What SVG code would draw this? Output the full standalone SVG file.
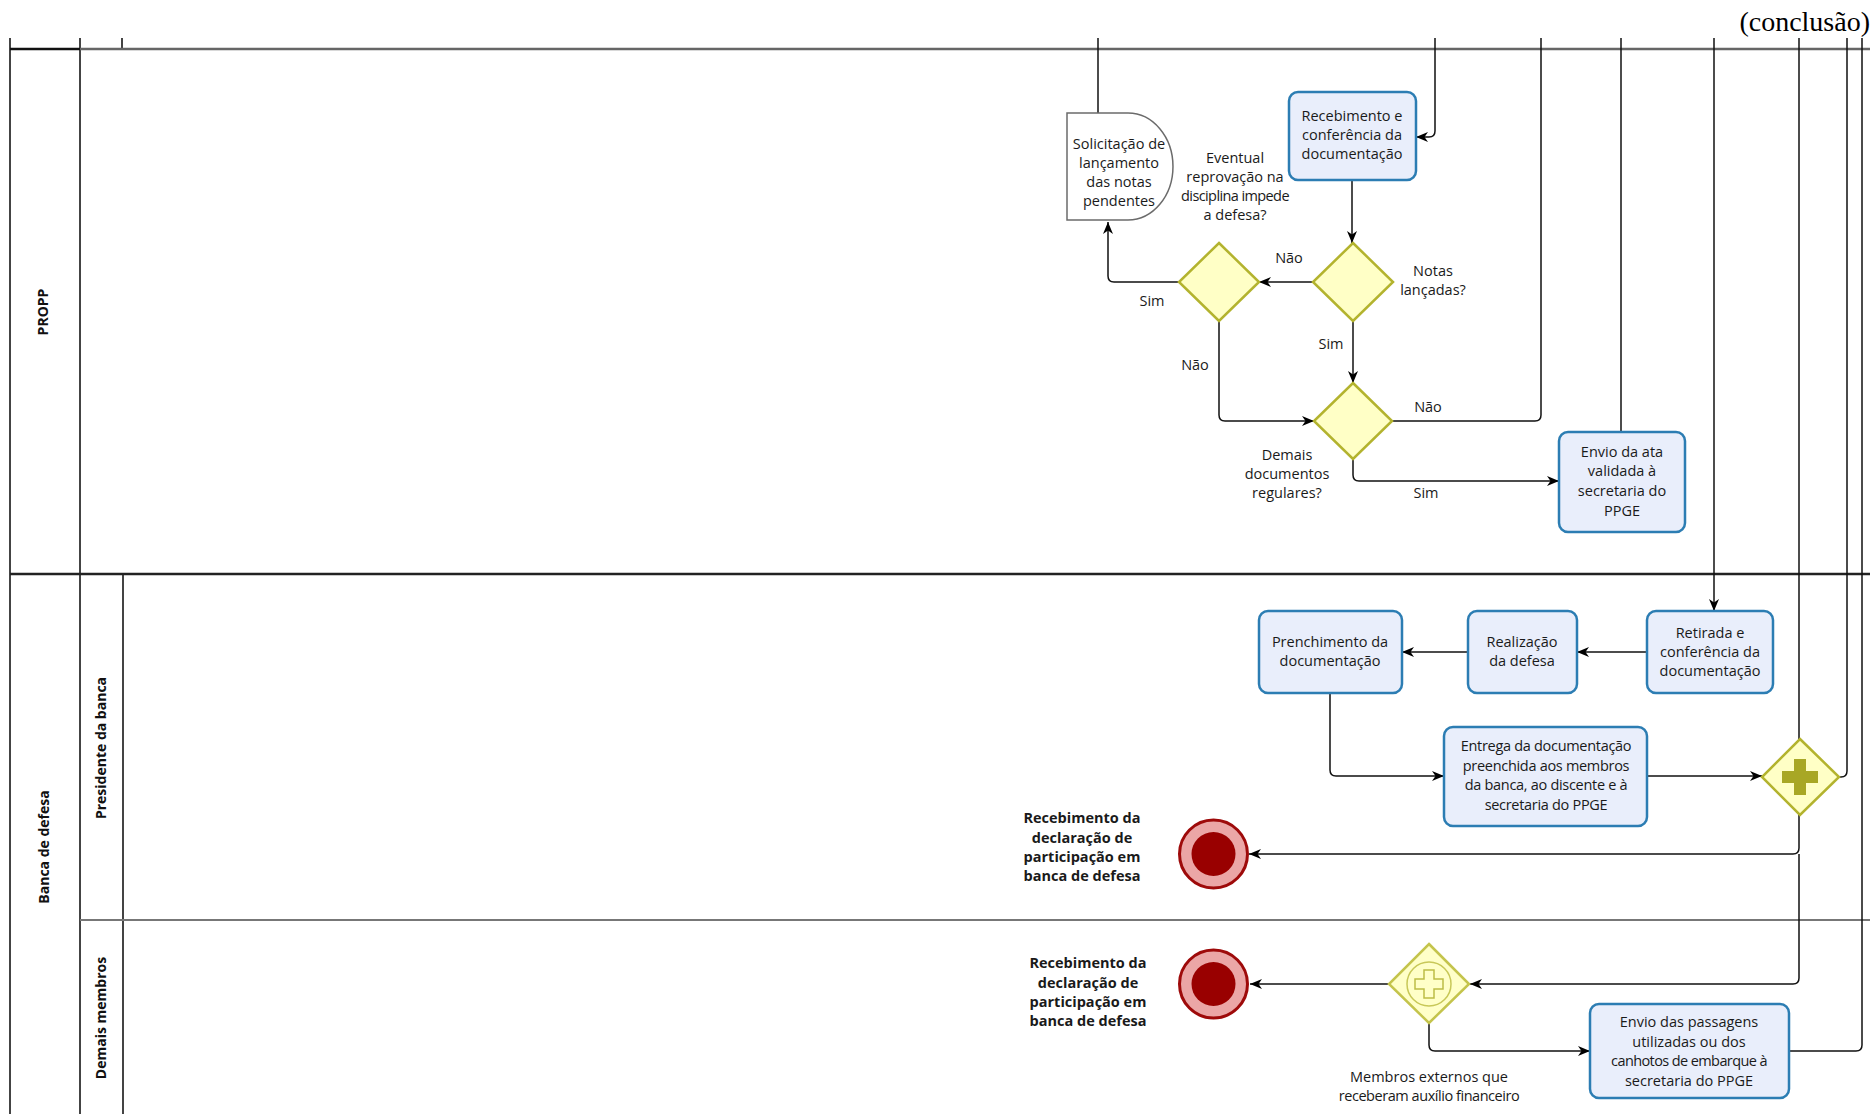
<svg xmlns="http://www.w3.org/2000/svg" width="1870" height="1114" viewBox="0 0 1870 1114">
<style>
.t{font-family:"Open Sans","DejaVu Sans",sans-serif;font-size:14.5px;fill:#1a1a1a;text-anchor:middle}
.b{font-weight:bold}
.lane{font-family:"Open Sans","DejaVu Sans",sans-serif;font-size:14px;font-weight:bold;fill:#111;text-anchor:middle}
.task{fill:#E9EEFB;stroke:#2C7DB3;stroke-width:2.5}
.gw{fill:#FFFFC6;stroke:#B3B32E;stroke-width:2.5}
.gw2{fill:#FFFFC8;stroke:#C4C44C;stroke-width:2.5}
.ln{fill:none;stroke:#111;stroke-width:1.5}
.lanes{fill:none}
</style>
<defs>
<marker id="ah" viewBox="0 0 12 10" refX="12" refY="5" markerWidth="12" markerHeight="10" markerUnits="userSpaceOnUse" orient="auto">
<path d="M0,0 L12,5 L0,10 L3.5,5 Z" fill="#000"/>
</marker>
</defs>
<rect width="1870" height="1114" fill="#fff"/>
<text x="1870" y="31" font-family="Liberation Serif,serif" font-size="28" text-anchor="end" fill="#000">(conclusão)</text>
<g id="lanes" class="lanes">
<path d="M10,38 V1114 M80,38 V1114 M122,38 V49 M123,574 V1114" stroke="#444" stroke-width="2"/>
<path d="M80,49 H1870" stroke="#666" stroke-width="2.5"/>
<path d="M10,49 H80" stroke="#111" stroke-width="2.5"/>
<path d="M10,574 H1870" stroke="#222" stroke-width="2.5"/>
<path d="M80,920 H1870" stroke="#777" stroke-width="2"/>
<text class="lane" transform="translate(48,312) rotate(-90)">PROPP</text>
<text class="lane" transform="translate(49,847) rotate(-90)">Banca de defesa</text>
<text class="lane" transform="translate(106,748) rotate(-90)">Presidente da banca</text>
<text class="lane" transform="translate(106,1018) rotate(-90)">Demais membros</text>
</g>
<g id="connectors" class="ln">
<path d="M1098,38 V113"/>
<path d="M1435,38 V131 Q1435,137 1429,137 H1416" marker-end="url(#ah)"/>
<path d="M1352,180 V243" marker-end="url(#ah)"/>
<path d="M1313,282 H1259" marker-end="url(#ah)"/>
<path d="M1179,282 H1114 Q1108,282 1108,276 V222" marker-end="url(#ah)"/>
<path d="M1219,321 V415 Q1219,421 1225,421 H1314" marker-end="url(#ah)"/>
<path d="M1353,321 V383" marker-end="url(#ah)"/>
<path d="M1392,421 H1535 Q1541,421 1541,415 V38"/>
<path d="M1353,459 V475 Q1353,481 1359,481 H1559" marker-end="url(#ah)"/>
<path d="M1621,432 V38"/>
<path d="M1714,38 V611" marker-end="url(#ah)"/>
<path d="M1647,652 H1577" marker-end="url(#ah)"/>
<path d="M1468,652 H1402" marker-end="url(#ah)"/>
<path d="M1330,693 V770 Q1330,776 1336,776 H1444" marker-end="url(#ah)"/>
<path d="M1647,776 H1762" marker-end="url(#ah)"/>
<path d="M1799,38 V739"/>
<path d="M1799,813 V848 Q1799,854 1793,854 H1249" marker-end="url(#ah)"/>
<path d="M1799,854 V978 Q1799,984 1793,984 H1470" marker-end="url(#ah)"/>
<path d="M1388,984 H1250" marker-end="url(#ah)"/>
<path d="M1429,1023 V1045 Q1429,1051 1435,1051 H1590" marker-end="url(#ah)"/>
<path d="M1839,777 H1841 Q1847,777 1847,771 V38"/>
<path d="M1789,1051 H1856 Q1862,1051 1862,1045 V38"/>
</g>
<g id="conn-labels" class="t">
<text x="1289" y="263">Não</text>
<text x="1152" y="306">Sim</text>
<text x="1195" y="370">Não</text>
<text x="1331" y="349">Sim</text>
<text x="1428" y="412">Não</text>
<text x="1426" y="498">Sim</text>
</g>
<g id="solicitacao">
<path d="M1067,113 H1128 A45,53.5 0 0 1 1128,220 H1067 Z" fill="#fff" stroke="#6b6b6b" stroke-width="1.5"/>
<text class="t"><tspan x="1119" y="149">Solicitação de</tspan><tspan x="1119" y="168">lançamento</tspan><tspan x="1119" y="187">das notas</tspan><tspan x="1119" y="206">pendentes</tspan></text>
</g>
<g id="recebimento">
<rect class="task" x="1289" y="92" width="127" height="88" rx="9"/>
<text class="t"><tspan x="1352" y="121">Recebimento e</tspan><tspan x="1352" y="140">conferência da</tspan><tspan x="1352" y="159">documentação</tspan></text>
</g>
<g id="gw-notas">
<path class="gw" d="M1353,243 L1393,282 L1353,321 L1313,282 Z"/>
<text class="t"><tspan x="1433" y="276">Notas</tspan><tspan x="1433" y="295">lançadas?</tspan></text>
</g>
<g id="gw-reprovacao">
<path class="gw" d="M1219,243 L1259,282 L1219,321 L1179,282 Z"/>
<text class="t"><tspan x="1235" y="163">Eventual</tspan><tspan x="1235" y="182">reprovação na</tspan><tspan x="1235" y="201" letter-spacing="-0.6">disciplina impede</tspan><tspan x="1235" y="220">a defesa?</tspan></text>
</g>
<g id="gw-demais">
<path class="gw" d="M1353,383 L1392,421 L1353,459 L1314,421 Z"/>
<text class="t"><tspan x="1287" y="460">Demais</tspan><tspan x="1287" y="479">documentos</tspan><tspan x="1287" y="498">regulares?</tspan></text>
</g>
<g id="envio-ata">
<rect class="task" x="1559" y="432" width="126" height="100" rx="9"/>
<text class="t"><tspan x="1622" y="457">Envio da ata</tspan><tspan x="1622" y="476">validada à</tspan><tspan x="1622" y="496">secretaria do</tspan><tspan x="1622" y="516">PPGE</tspan></text>
</g>
<g id="retirada">
<rect class="task" x="1647" y="611" width="126" height="82" rx="9"/>
<text class="t"><tspan x="1710" y="638">Retirada e</tspan><tspan x="1710" y="657">conferência da</tspan><tspan x="1710" y="676">documentação</tspan></text>
</g>
<g id="realizacao">
<rect class="task" x="1468" y="611" width="109" height="82" rx="9"/>
<text class="t"><tspan x="1522" y="647">Realização</tspan><tspan x="1522" y="666">da defesa</tspan></text>
</g>
<g id="prenchimento">
<rect class="task" x="1259" y="611" width="143" height="82" rx="9"/>
<text class="t"><tspan x="1330" y="647">Prenchimento da</tspan><tspan x="1330" y="666">documentação</tspan></text>
</g>
<g id="entrega">
<rect class="task" x="1444" y="727" width="203" height="99" rx="9"/>
<text class="t" letter-spacing="-0.3"><tspan x="1546" y="751">Entrega da documentação</tspan><tspan x="1546" y="771">preenchida aos membros</tspan><tspan x="1546" y="790">da banca, ao discente e à</tspan><tspan x="1546" y="810">secretaria do PPGE</tspan></text>
</g>
<g id="gw-paralelo">
<path class="gw" d="M1800,739 L1839,777 L1800,815 L1762,777 Z"/>
<path d="M1794,759 H1806 V771 H1818 V783 H1806 V795 H1794 V783 H1782 V771 H1794 Z" fill="#A8A725"/>
</g>
<g id="fim-presidente">
<circle cx="1213.5" cy="854" r="34" fill="#EBA6A6" stroke="#9E0A0A" stroke-width="3"/>
<circle cx="1213.5" cy="854" r="22" fill="#990000"/>
<text class="t b"><tspan x="1082" y="823">Recebimento da</tspan><tspan x="1082" y="843">declaração de</tspan><tspan x="1082" y="862">participação em</tspan><tspan x="1082" y="881">banca de defesa</tspan></text>
</g>
<g id="gw-membros">
<path class="gw2" d="M1429,944 L1469,984 L1429,1023 L1389,984 Z"/>
<circle cx="1429" cy="984" r="22" fill="none" stroke="#C8C858" stroke-width="1.5"/>
<path d="M1424,970 H1434 V979 H1443 V989 H1434 V998 H1424 V989 H1415 V979 H1424 Z" fill="none" stroke="#BDBD45" stroke-width="1.5"/>
<text class="t"><tspan x="1429" y="1082">Membros externos que</tspan><tspan x="1429" y="1101" letter-spacing="-0.45">receberam auxílio financeiro</tspan></text>
</g>
<g id="fim-membros">
<circle cx="1213.5" cy="984" r="34" fill="#EBA6A6" stroke="#9E0A0A" stroke-width="3"/>
<circle cx="1213.5" cy="984" r="22" fill="#990000"/>
<text class="t b"><tspan x="1088" y="968">Recebimento da</tspan><tspan x="1088" y="988">declaração de</tspan><tspan x="1088" y="1007">participação em</tspan><tspan x="1088" y="1026">banca de defesa</tspan></text>
</g>
<g id="envio-passagens">
<rect class="task" x="1590" y="1004" width="199" height="94" rx="9"/>
<text class="t"><tspan x="1689" y="1027">Envio das passagens</tspan><tspan x="1689" y="1047">utilizadas ou dos</tspan><tspan x="1689" y="1066" letter-spacing="-0.6">canhotos de embarque à</tspan><tspan x="1689" y="1086">secretaria do PPGE</tspan></text>
</g>
</svg>
